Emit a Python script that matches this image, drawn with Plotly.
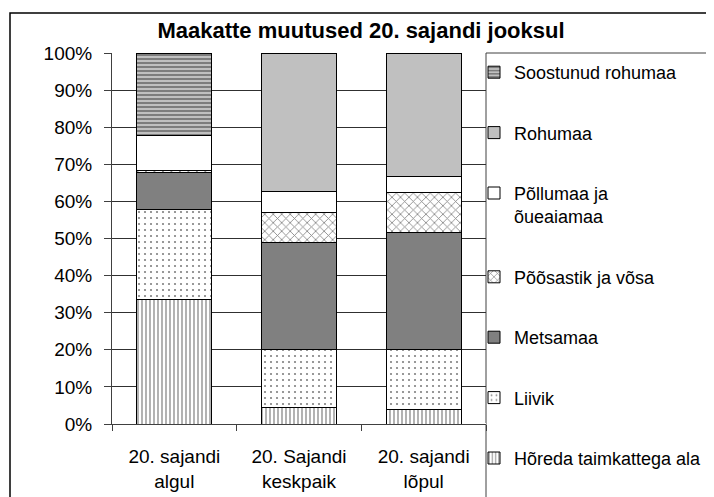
import plotly.graph_objects as go

categories = ["20. sajandi<br>algul", "20. Sajandi<br>keskpaik", "20. sajandi<br>lõpul"]

hoereda = [33.6, 4.5, 3.8]
liivik = [24.2, 15.7, 16.2]
metsamaa = [10.0, 28.8, 31.7]
poosastik = [0.6, 8.1, 10.7]
pollumaa = [9.3, 5.5, 4.3]
rohumaa = [0.0, 37.4, 33.3]
soostunud = [22.3, 0.0, 0.0]

y_ticks = [0, 10, 20, 30, 40, 50, 60, 70, 80, 90, 100]
y_tick_labels = [f"{v}%" for v in y_ticks]

series = [
    ("Hõreda taimkattega ala", hoereda, dict(shape="|", fgcolor="black", bgcolor="white", size=4, solidity=0.3)),
    ("Liivik", liivik, dict(shape=".", fgcolor="black", bgcolor="white", size=6, solidity=0.1)),
    ("Metsamaa", metsamaa, None),
    ("Põõsastik ja võsa", poosastik, dict(shape="x", fgcolor="black", bgcolor="white", size=6, solidity=0.25)),
    ("Põllumaa ja<br>õueaiamaa", pollumaa, None),
    ("Rohumaa", rohumaa, None),
    ("Soostunud rohumaa", soostunud, dict(shape="-", fgcolor="black", bgcolor="#C0C0C0", size=4, solidity=0.35)),
]
solid_colors = {"Metsamaa": "#808080", "Põllumaa ja<br>õueaiamaa": "#FFFFFF", "Rohumaa": "#C0C0C0"}

fig = go.Figure()
n = len(series)
for i, (name, vals, pat) in enumerate(series):
    marker = dict(line=dict(color="black", width=1))
    if pat is None:
        marker["color"] = solid_colors[name]
    else:
        marker["color"] = pat["bgcolor"]
        marker["pattern"] = pat
    fig.add_trace(go.Bar(
        x=categories, y=vals, name=name, marker=marker,
        legendgroup=name, legendrank=n - i,
    ))

# page has an 8px body margin, so figure coords = screen coords - 8
OFF = 8
W, H = 714 - OFF, 497 - OFF
L, T = 112 - OFF, 53 - OFF
R = W - (486 - OFF)
B = H - (424 - OFF)
pw, ph = W - L - R, H - T - B

def px_x(p):
    return (p - OFF - L) / pw

def px_y(p):
    return (H - B - (p - OFF)) / ph

fig.update_layout(
    width=W, height=H,
    margin=dict(l=L, r=R, t=T, b=B, autoexpand=False),
    barmode="stack",
    bargap=0.4,
    plot_bgcolor="white",
    paper_bgcolor="white",
    font=dict(family="Liberation Sans, Arial, sans-serif", size=19, color="black"),
    title=dict(
        text="<b>Maakatte muutused 20. sajandi jooksul</b>",
        x=(361 - OFF) / W, xanchor="center", xref="container",
        y=1 - (30 - OFF) / H, yanchor="middle", yref="container",
        font=dict(size=22, color="black"),
    ),
    legend=dict(
        traceorder="grouped",
        tracegroupgap=34,
        x=(474 - OFF) / W, xanchor="left", xref="container",
        y=1 - (54 - OFF) / H, yanchor="top", yref="container",
        bgcolor="rgba(0,0,0,0)",
        font=dict(size=18),
        valign="top",
        maxheight=470,
    ),
    xaxis=dict(
        showline=True, linecolor="#404040", linewidth=1,
        ticks="outside", ticklen=6, tickcolor="#404040",
        tickson="boundaries",
        showgrid=False,
        ticklabelstandoff=15,
    ),
    yaxis=dict(
        range=[0, 100],
        tickvals=y_ticks, ticktext=y_tick_labels,
        showline=True, linecolor="#404040", linewidth=1,
        ticks="outside", ticklen=7, tickcolor="#404040",
        showgrid=True, gridcolor="#303030", gridwidth=1,
        ticklabelstandoff=8,
    ),
    shapes=[
        dict(type="rect", xref="paper", yref="paper",
             x0=px_x(10), x1=px_x(712.5), y0=px_y(510), y1=px_y(13),
             line=dict(color="black", width=1.5), fillcolor="rgba(0,0,0,0)", layer="below"),
        dict(type="rect", xref="paper", yref="paper",
             x0=px_x(486), x1=px_x(712.5), y0=px_y(510), y1=px_y(53),
             line=dict(color="#404040", width=1), fillcolor="rgba(0,0,0,0)", layer="below"),
    ],
)

fig.write_html("out.html")
